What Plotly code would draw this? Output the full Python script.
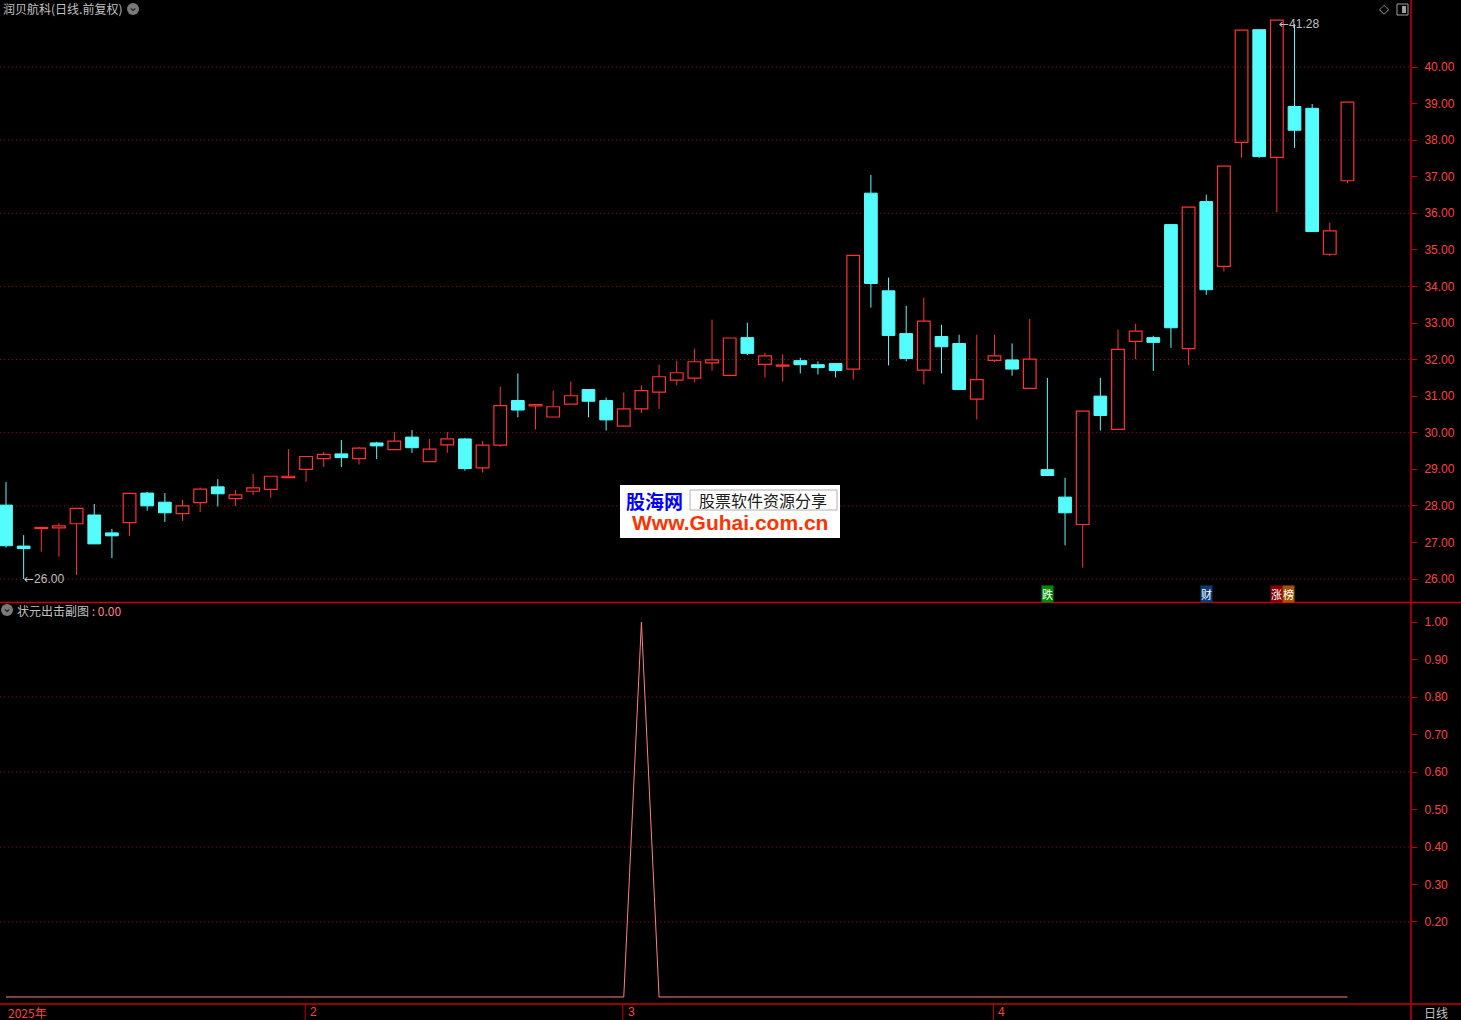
import plotly.graph_objects as go

# ---------------- data ----------------
opens = [28.02, 26.90, 27.38, 27.40, 27.51, 27.75, 27.26, 27.54, 28.35, 28.10,
         27.79, 28.09, 28.52, 28.20, 28.40, 28.45, 28.77, 29.00, 29.29, 29.42,
         29.29, 29.72, 29.54, 29.88, 29.21, 29.67, 29.83, 29.04, 29.66, 30.88,
         30.73, 30.43, 30.78, 31.18, 30.88, 30.18, 30.65, 31.11, 31.44, 31.49,
         31.91, 31.57, 32.60, 31.87, 31.82, 31.97, 31.86, 31.89, 31.74, 36.55,
         33.88, 32.71, 31.71, 32.63, 32.44, 30.92, 31.98, 31.99, 31.21, 28.99,
         28.24, 27.49, 31.00, 30.09, 32.50, 32.60, 35.69, 32.30, 36.32, 34.55,
         37.94, 41.02, 37.53, 38.92, 38.87, 34.88, 36.89]
highs = [28.65, 27.20, 27.42, 27.53, 27.93, 28.05, 27.37, 28.34, 28.38, 28.35,
         28.16, 28.50, 28.73, 28.43, 28.87, 28.81, 29.55, 29.35, 29.47, 29.80,
         29.61, 29.75, 30.02, 30.07, 29.83, 30.02, 29.86, 29.77, 31.26, 31.62,
         30.78, 31.15, 31.40, 31.18, 30.96, 31.10, 31.29, 31.86, 31.97, 32.30,
         33.09, 32.59, 33.01, 32.19, 32.14, 32.05, 31.95, 31.89, 34.85, 37.05,
         34.24, 33.47, 33.69, 32.95, 32.68, 32.68, 32.68, 32.44, 33.11, 31.50,
         28.77, 30.59, 31.50, 32.82, 32.98, 32.65, 35.69, 36.17, 36.51, 37.29,
         41.01, 41.02, 41.28, 41.17, 38.99, 35.74, 39.04]
lows = [26.86, 26.00, 26.75, 26.61, 26.11, 26.96, 26.57, 27.18, 27.87, 27.56,
        27.59, 27.83, 27.98, 28.00, 28.30, 28.22, 28.77, 28.66, 29.06, 29.06,
        29.13, 29.28, 29.54, 29.45, 29.21, 29.45, 28.96, 28.91, 29.62, 30.42,
        30.09, 30.43, 30.78, 30.42, 30.06, 30.18, 30.54, 30.65, 31.30, 31.38,
        31.70, 31.57, 32.12, 31.51, 31.40, 31.62, 31.59, 31.51, 31.45, 33.42,
        31.84, 31.95, 31.32, 31.62, 31.18, 30.36, 31.93, 31.56, 31.21, 28.83,
        26.92, 26.31, 30.06, 30.09, 32.01, 31.69, 32.32, 31.85, 33.77, 34.41,
        37.52, 37.52, 36.03, 37.79, 35.50, 34.83, 36.82]
closes = [26.91, 26.83, 27.41, 27.45, 27.93, 26.96, 27.18, 28.34, 28.00, 27.81,
          28.00, 28.46, 28.33, 28.30, 28.49, 28.81, 28.81, 29.35, 29.41, 29.32,
          29.58, 29.64, 29.77, 29.59, 29.55, 29.83, 29.02, 29.66, 30.74, 30.62,
          30.77, 30.71, 31.01, 30.86, 30.35, 30.65, 31.15, 31.53, 31.64, 31.94,
          31.99, 32.59, 32.17, 32.10, 31.85, 31.86, 31.78, 31.70, 34.85, 34.08,
          32.66, 32.03, 33.05, 32.35, 31.18, 31.45, 32.10, 31.74, 32.01, 28.83,
          27.81, 30.59, 30.47, 32.28, 32.78, 32.47, 32.87, 36.17, 33.91, 37.29,
          41.01, 37.55, 41.28, 38.27, 35.50, 35.52, 39.04]
signal = [0, 0, 0, 0, 0, 0, 0, 0, 0, 0,
          0, 0, 0, 0, 0, 0, 0, 0, 0, 0,
          0, 0, 0, 0, 0, 0, 0, 0, 0, 0,
          0, 0, 0, 0, 0, 0, 1, 0, 0, 0,
          0, 0, 0, 0, 0, 0, 0, 0, 0, 0,
          0, 0, 0, 0, 0, 0, 0, 0, 0, 0,
          0, 0, 0, 0, 0, 0, 0, 0, 0, 0,
          0, 0, 0, 0, 0, 0, 0]
price_ticks = [26, 27, 28, 29, 30, 31, 32, 33, 34, 35, 36, 37, 38, 39, 40]
price_grid = [26, 28, 30, 32, 34, 36, 38, 40]
sub_ticks = [0.2, 0.3, 0.4, 0.5, 0.6, 0.7, 0.8, 0.9, 1.0]
sub_grid = [0.2, 0.4, 0.6, 0.8]
month_pos = [17, 35, 56]
month_labels = ["2", "3", "4"]
events = [(59, "跌", "#008a00"), (68, "财", "#0c3c78"), (72, "涨", "#880000")]

# ---------------- layout constants ----------------
W, H = 1461, 1020
PW, PH = 1411, 1004
RED = "#ff3232"
CYAN = "#54fcfc"
AXRED = "#c80000"
GRIDRED = "#a00000"
TXT = "#c0c0c0"
CJK = "Noto Sans CJK SC"


def px(x):
    return x / PW


def py(y):
    return 1 - y / PH


n = len(opens)
idx = list(range(n))
up = [c >= o for o, c in zip(opens, closes)]

fig = go.Figure()


def wicks(cond):
    xs, ys = [], []
    for i in idx:
        if up[i] != cond:
            continue
        top = max(opens[i], closes[i])
        bot = min(opens[i], closes[i])
        if highs[i] > top:
            xs += [i, i, None]
            ys += [highs[i], top, None]
        if lows[i] < bot:
            xs += [i, i, None]
            ys += [bot, lows[i], None]
    return xs, ys


wx, wy = wicks(True)
fig.add_trace(go.Scatter(x=wx, y=wy, mode="lines", line=dict(color=RED, width=1),
                         hoverinfo="skip", xaxis="x", yaxis="y"))
wx, wy = wicks(False)
fig.add_trace(go.Scatter(x=wx, y=wy, mode="lines", line=dict(color=CYAN, width=1),
                         hoverinfo="skip", xaxis="x", yaxis="y"))

ux = [i for i in idx if up[i]]
fig.add_trace(go.Bar(x=ux, base=[opens[i] for i in ux],
                     y=[closes[i] - opens[i] for i in ux], width=0.72,
                     marker=dict(color="rgba(0,0,0,0)", line=dict(color=RED, width=1.2)),
                     xaxis="x", yaxis="y"))
dx = [i for i in idx if not up[i]]
fig.add_trace(go.Bar(x=dx, base=[closes[i] for i in dx],
                     y=[opens[i] - closes[i] for i in dx], width=0.72,
                     marker=dict(color=CYAN, line=dict(color=CYAN, width=1)),
                     xaxis="x", yaxis="y"))

fig.add_trace(go.Scatter(x=idx, y=signal, mode="lines",
                         line=dict(color="#ff8080", width=1),
                         xaxis="x2", yaxis="y2"))

xr = [-0.34, 79.6]
tickfont = dict(color="#ff4040", size=12, family="Liberation Sans")
fig.update_layout(
    width=W, height=H, margin=dict(l=0, r=50, t=0, b=16),
    paper_bgcolor="black", plot_bgcolor="black", showlegend=False, barmode="overlay",
    xaxis=dict(domain=[0, 1], range=xr, visible=False, anchor="y"),
    yaxis=dict(domain=[py(602), 1], range=[25.371, 41.832], side="right",
               tickvals=price_ticks, tickformat=".2f", ticks="outside", ticklen=5,
               tickcolor=AXRED, showline=False, showgrid=False, zeroline=False,
               tickfont=tickfont, anchor="x", ticklabelstandoff=5),
    xaxis2=dict(domain=[0, 1], range=xr, visible=False, anchor="y2"),
    yaxis2=dict(domain=[0, py(603)], range=[-0.0187, 1.0507], side="right",
                tickvals=sub_ticks, tickformat=".2f", ticks="outside", ticklen=5,
                tickcolor=AXRED, showline=False, showgrid=False, zeroline=False,
                tickfont=tickfont, anchor="x2", ticklabelstandoff=5),
)

shapes = []
for v in price_grid:
    shapes.append(dict(type="line", xref="paper", yref="y", x0=0, x1=1, y0=v, y1=v,
                       line=dict(color=GRIDRED, width=1, dash="1px,3px"), layer="below"))
for v in sub_grid:
    shapes.append(dict(type="line", xref="paper", yref="y2", x0=0, x1=1, y0=v, y1=v,
                       line=dict(color=GRIDRED, width=1, dash="1px,3px"), layer="below"))
# frame lines
shapes.append(dict(type="line", xref="paper", yref="paper", x0=1, x1=1, y0=py(1020), y1=1,
                   line=dict(color=AXRED, width=1.5)))
shapes.append(dict(type="line", xref="paper", yref="paper", x0=0, x1=px(1461), y0=py(602.5), y1=py(602.5),
                   line=dict(color=AXRED, width=1.5)))
shapes.append(dict(type="line", xref="paper", yref="paper", x0=0, x1=px(1461), y0=py(1004), y1=py(1004),
                   line=dict(color=AXRED, width=1.5)))
for p in month_pos:
    shapes.append(dict(type="line", xref="x2", yref="paper", x0=p - 0.05, x1=p - 0.05,
                       y0=py(1004), y1=py(1020), line=dict(color=AXRED, width=1)))
# watermark
shapes.append(dict(type="rect", xref="paper", yref="paper", x0=px(620), x1=px(840),
                   y0=py(538), y1=py(485), fillcolor="white", line=dict(width=0)))
shapes.append(dict(type="rect", xref="paper", yref="paper", x0=px(690), x1=px(837),
                   y0=py(510), y1=py(490), fillcolor="white", line=dict(color="#b0b0b0", width=1)))
# icons
for cx, cy in [(133, 9), (7, 610)]:
    shapes.append(dict(type="circle", xref="paper", yref="paper", x0=px(cx - 6), x1=px(cx + 6),
                       y0=py(cy + 6), y1=py(cy - 6), fillcolor="#7a7a7a", line=dict(width=0)))
shapes.append(dict(type="rect", xref="paper", yref="paper", x0=px(1397), x1=px(1408),
                   y0=py(15), y1=py(4), line=dict(color="#a0a0a0", width=1)))
shapes.append(dict(type="rect", xref="paper", yref="paper", x0=px(1402), x1=px(1406),
                   y0=py(13), y1=py(6), fillcolor="#a0a0a0", line=dict(width=0)))

ann = []


def A(text, x, y, size=12, color=TXT, family=CJK, xanchor="left", yanchor="middle",
      xref="paper", yref="paper", **kw):
    ann.append(dict(text=text, x=x, y=y, xref=xref, yref=yref, showarrow=False,
                    xanchor=xanchor, yanchor=yanchor,
                    font=dict(size=size, color=color, family=family), **kw))


A("润贝航科(日线.前复权)", px(1), py(9), size=12)
A("⌄", px(133), py(7), size=12, color="#1a1a1a", family="DejaVu Sans", xanchor="center")
A("⌄", px(7), py(608), size=12, color="#1a1a1a", family="DejaVu Sans", xanchor="center")
A("状元出击副图<span style='color:#ff8080'> : 0.00</span>", px(15), py(610), size=12)
A("◇", px(1384), py(9), size=13, color="#a0a0a0", family="DejaVu Sans", xanchor="center")
A("2025年", px(6), py(1012), size=12, color="#ff4040")
for p, t in zip(month_pos, month_labels):
    A(t, p, py(1012), size=12, color="#ff4040", family="Liberation Sans", xref="x2", xshift=2)
A("日线", px(1436), py(1012), size=12, xanchor="center")

lo_i = min(idx, key=lambda i: lows[i])
hi_i = max(idx, key=lambda i: highs[i])
ARW = "<span style='font-family:DejaVu Sans'>←</span>"
A(ARW + "%.2f" % lows[lo_i], lo_i, lows[lo_i], size=12, family="Liberation Sans",
  xref="x", yref="y", xshift=-2)
A(ARW + "%.2f" % highs[hi_i], hi_i, highs[hi_i], size=12, family="Liberation Sans",
  xref="x", yref="y", xshift=0, yshift=-4)

for i, t, bg in events:
    A(t, i, py(594), size=11, color="white", xanchor="center", xref="x", bgcolor=bg, borderpad=0)
A("榜", 72, py(594), size=11, color="white", xanchor="center", xref="x",
  bgcolor="#a85400", borderpad=0, xshift=12)

# watermark texts
A("<b>股海网</b>", px(654), py(500), size=19, color="#0000ff", xanchor="center")
A("股票软件资源分享", px(763), py(500), size=16, color="#202020", xanchor="center")
A("<b>Www.Guhai.com.cn</b>", px(730), py(522), size=21, color="#ff3300",
  family="Liberation Sans", xanchor="center")

fig.update_layout(shapes=shapes, annotations=ann)
fig.write_html("out.html", config={"displayModeBar": False},
               post_script="document.body.style.margin='0';document.body.style.background='black';")
